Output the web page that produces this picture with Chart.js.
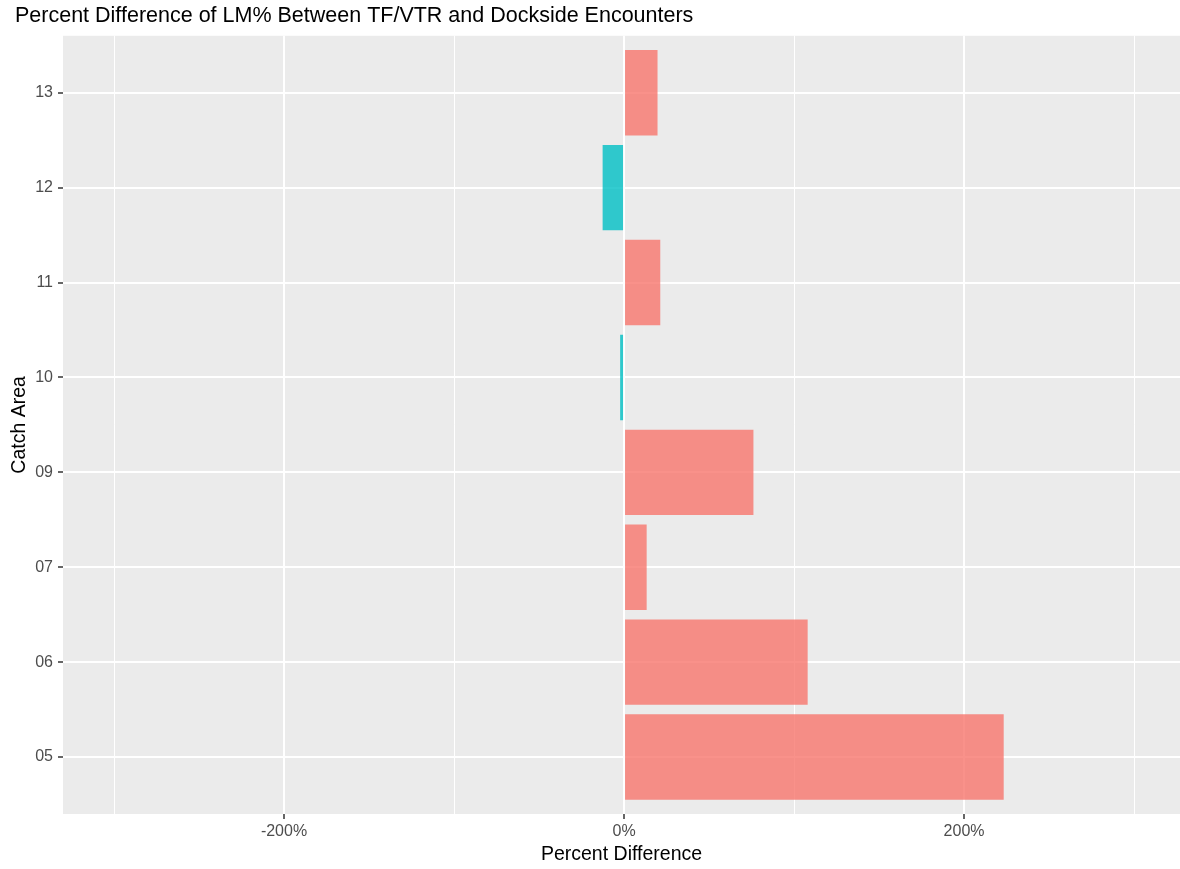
<!DOCTYPE html>
<html>
<head>
<meta charset="utf-8">
<title>Percent Difference of LM%</title>
<script src="https://cdn.jsdelivr.net/npm/chart.js@4.4.1/dist/chart.umd.min.js"></script>
<style>
  html, body { margin: 0; padding: 0; background: #ffffff; }
  #wrap { width: 1180px; height: 869px; position: relative; }
</style>
</head>
<body>
<div id="wrap"><canvas id="barChart"></canvas></div>
<script>
const categories = ["05", "06", "07", "09", "10", "11", "12", "13"];
const percentDiff = [223.3, 108, 13.3, 76.1, -2.3, 21.3, -12.6, 19.7];
const xTicks = [-300, -200, -100, 0, 100, 200, 300];
const xLabels = { "-200": "-200%", "0": "0%", "200": "200%" };

const posColor = "rgba(248, 118, 109, 0.8)";
const negColor = "rgba(0, 191, 196, 0.8)";
const font = "'Liberation Sans', Arial, sans-serif";

// grey panel behind the plot, like ggplot's theme_gray
const panelBg = {
  id: "panelBg",
  beforeDraw(chart) {
    const { ctx, chartArea } = chart;
    ctx.save();
    ctx.fillStyle = "#EBEBEB";
    ctx.fillRect(chartArea.left, chartArea.top, chartArea.right - chartArea.left, chartArea.bottom - chartArea.top);
    ctx.restore();
  }
};

new Chart(document.getElementById("barChart"), {
  type: "bar",
  data: {
    datasets: [
      {
        data: percentDiff.map((v, i) => ({ x: v, y: i })),
        backgroundColor: percentDiff.map(v => (v < 0 ? negColor : posColor)),
        borderWidth: 0,
        categoryPercentage: 0.9,
        barPercentage: 1
      }
    ]
  },
  options: {
    indexAxis: "y",
    responsive: true,
    maintainAspectRatio: false,
    animation: false,
    layout: { padding: { left: 15, right: 0, top: 0, bottom: 0 } },
    plugins: {
      legend: { display: false },
      tooltip: { enabled: false },
      title: {
        display: true,
        text: "Percent Difference of LM% Between TF/VTR and Dockside Encounters",
        align: "start",
        color: "#000000",
        font: { family: font, size: 21.5, weight: "normal" },
        padding: { top: 3, bottom: 7 }
      }
    },
    scales: {
      x: {
        type: "linear",
        min: -330,
        max: 327,
        afterBuildTicks: scale => {
          scale.ticks = xTicks.map(v => ({ value: v }));
        },
        afterFit: scale => {
          scale.height = 55;
        },
        border: { display: false },
        grid: {
          color: "#FFFFFF",
          lineWidth: ctx => (ctx.tick && ctx.tick.value % 200 === 0 ? 2 : 1),
          tickColor: ctx => (ctx.tick && ctx.tick.value % 200 === 0 ? "#333333" : "rgba(0,0,0,0)"),
          tickLength: 5,
          tickWidth: 1.5
        },
        ticks: {
          autoSkip: false,
          maxRotation: 0,
          padding: 3,
          color: "#4D4D4D",
          font: { family: font, size: 16 },
          callback: v => xLabels[String(v)] || ""
        },
        title: {
          display: true,
          text: "Percent Difference",
          color: "#000000",
          font: { family: font, size: 19.5 },
          padding: { top: 0, bottom: 2.3 }
        }
      },
      y: {
        type: "linear",
        offset: false,
        min: -0.6,
        max: categories.length - 1 + 0.6,
        afterBuildTicks: scale => {
          scale.ticks = categories.map((c, i) => ({ value: i }));
        },
        afterFit: scale => {
          scale.width = 48;
        },
        border: { display: false },
        grid: {
          offset: false,
          color: "#FFFFFF",
          lineWidth: 2,
          tickColor: "#333333",
          tickLength: 5,
          tickWidth: 1.5
        },
        ticks: {
          autoSkip: false,
          padding: 5,
          color: "#4D4D4D",
          font: { family: font, size: 16 },
          callback: v => categories[v] || ""
        },
        title: {
          display: true,
          text: "Catch Area",
          color: "#000000",
          font: { family: font, size: 19.5 },
          padding: { top: -6.7, bottom: 0 }
        }
      }
    }
  },
  plugins: [panelBg]
});
</script>
</body>
</html>
